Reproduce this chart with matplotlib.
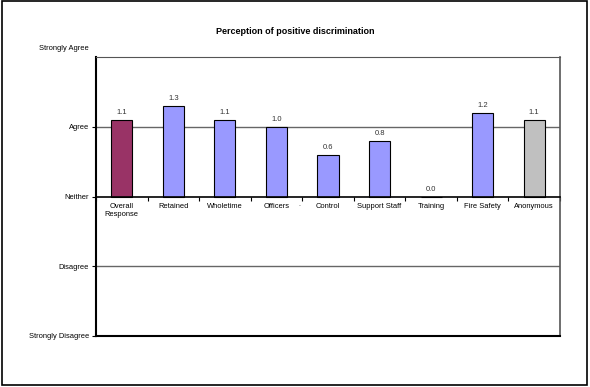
import numpy as np
import matplotlib.pyplot as plt
import matplotlib.transforms as mtrans
from matplotlib.patches import Rectangle

plt.rcParams['font.family'] = ['Liberation Sans', 'DejaVu Sans']

categories = ['Overall\nResponse', 'Retained', 'Wholetime', 'Officers', 'Control',
              'Support Staff', 'Training', 'Fire Safety', 'Anonymous']
values = [1.1, 1.3, 1.1, 1.0, 0.6, 0.8, 0.0, 1.2, 1.1]
colors = ['#993366'] + ['#9999FF'] * 7 + ['#C0C0C0']
ytick_vals = [-2, -1, 0, 1, 2]
ytick_labels = ['Strongly Disagree', 'Disagree', 'Neither', 'Agree', 'Strongly Agree']

fig = plt.figure(figsize=(5.9, 3.87), dpi=100)
ax = fig.add_axes([96 / 590, 51 / 387, 464 / 590, 279 / 387])

ind = np.arange(len(categories))
bars = ax.bar(ind, values, 0.41, color=colors, edgecolor='black', linewidth=0.8, zorder=3)

for rect, v in zip(bars, values):
    ax.annotate('%.1f' % v, (rect.get_x() + rect.get_width() / 2, rect.get_height()),
                xytext=(0, 2.5), textcoords='offset points', ha='center', va='bottom',
                fontsize=5.5, color='#333333')

ax.set_xlim(-0.5, len(categories) - 0.5)
ax.set_ylim(-2, 2)

# gridlines at agree / disagree
for g in (1, -1):
    ax.axhline(g, color='#666666', linewidth=1.0, zorder=1)

ax.set_yticks(ytick_vals)
ax.set_yticklabels(ytick_labels, fontsize=5.4)
ax.tick_params(axis='y', length=3, width=0.8, pad=2)
# top label sits a little higher than its tick in the original
top_lab = ax.get_yticklabels()[-1]
top_lab.set_transform(top_lab.get_transform() + mtrans.ScaledTranslation(0, 0.1, fig.dpi_scale_trans))
ax.yaxis.get_major_ticks()[-1].tick1line.set_visible(False)

ax.spines['bottom'].set_position(('data', 0))
ax.spines['bottom'].set_linewidth(1.2)
ax.spines['bottom'].set_zorder(4)
ax.spines['left'].set_linewidth(1.5)
ax.spines['top'].set_color('#555555')
ax.spines['right'].set_color('#555555')
ax.spines['right'].set_linewidth(1.2)
ax.axhline(-2, color='black', linewidth=1.5, clip_on=False, zorder=4)

ax.set_xticks(ind)
ax.set_xticklabels(categories, fontsize=5.4)
ax.set_xticks(np.arange(len(categories) + 1) - 0.5, minor=True)
ax.tick_params(axis='x', which='major', length=0, pad=5)
ax.tick_params(axis='x', which='minor', length=3, width=0.8)

# stray mark left of "Control" in the original
ax.text(3.45, -0.06, '.', ha='center', va='top', fontsize=5, color='#333333')

fig.text(295 / 590, 1 - 31 / 387, 'Perception of positive discrimination',
         ha='center', va='center', fontsize=6.5, fontweight='bold')

fig.patches.append(Rectangle((0.003, 0.004), 0.992, 0.993, transform=fig.transFigure,
                             fill=False, edgecolor='black', linewidth=1.2))

fig.savefig('out.png', dpi=100)
